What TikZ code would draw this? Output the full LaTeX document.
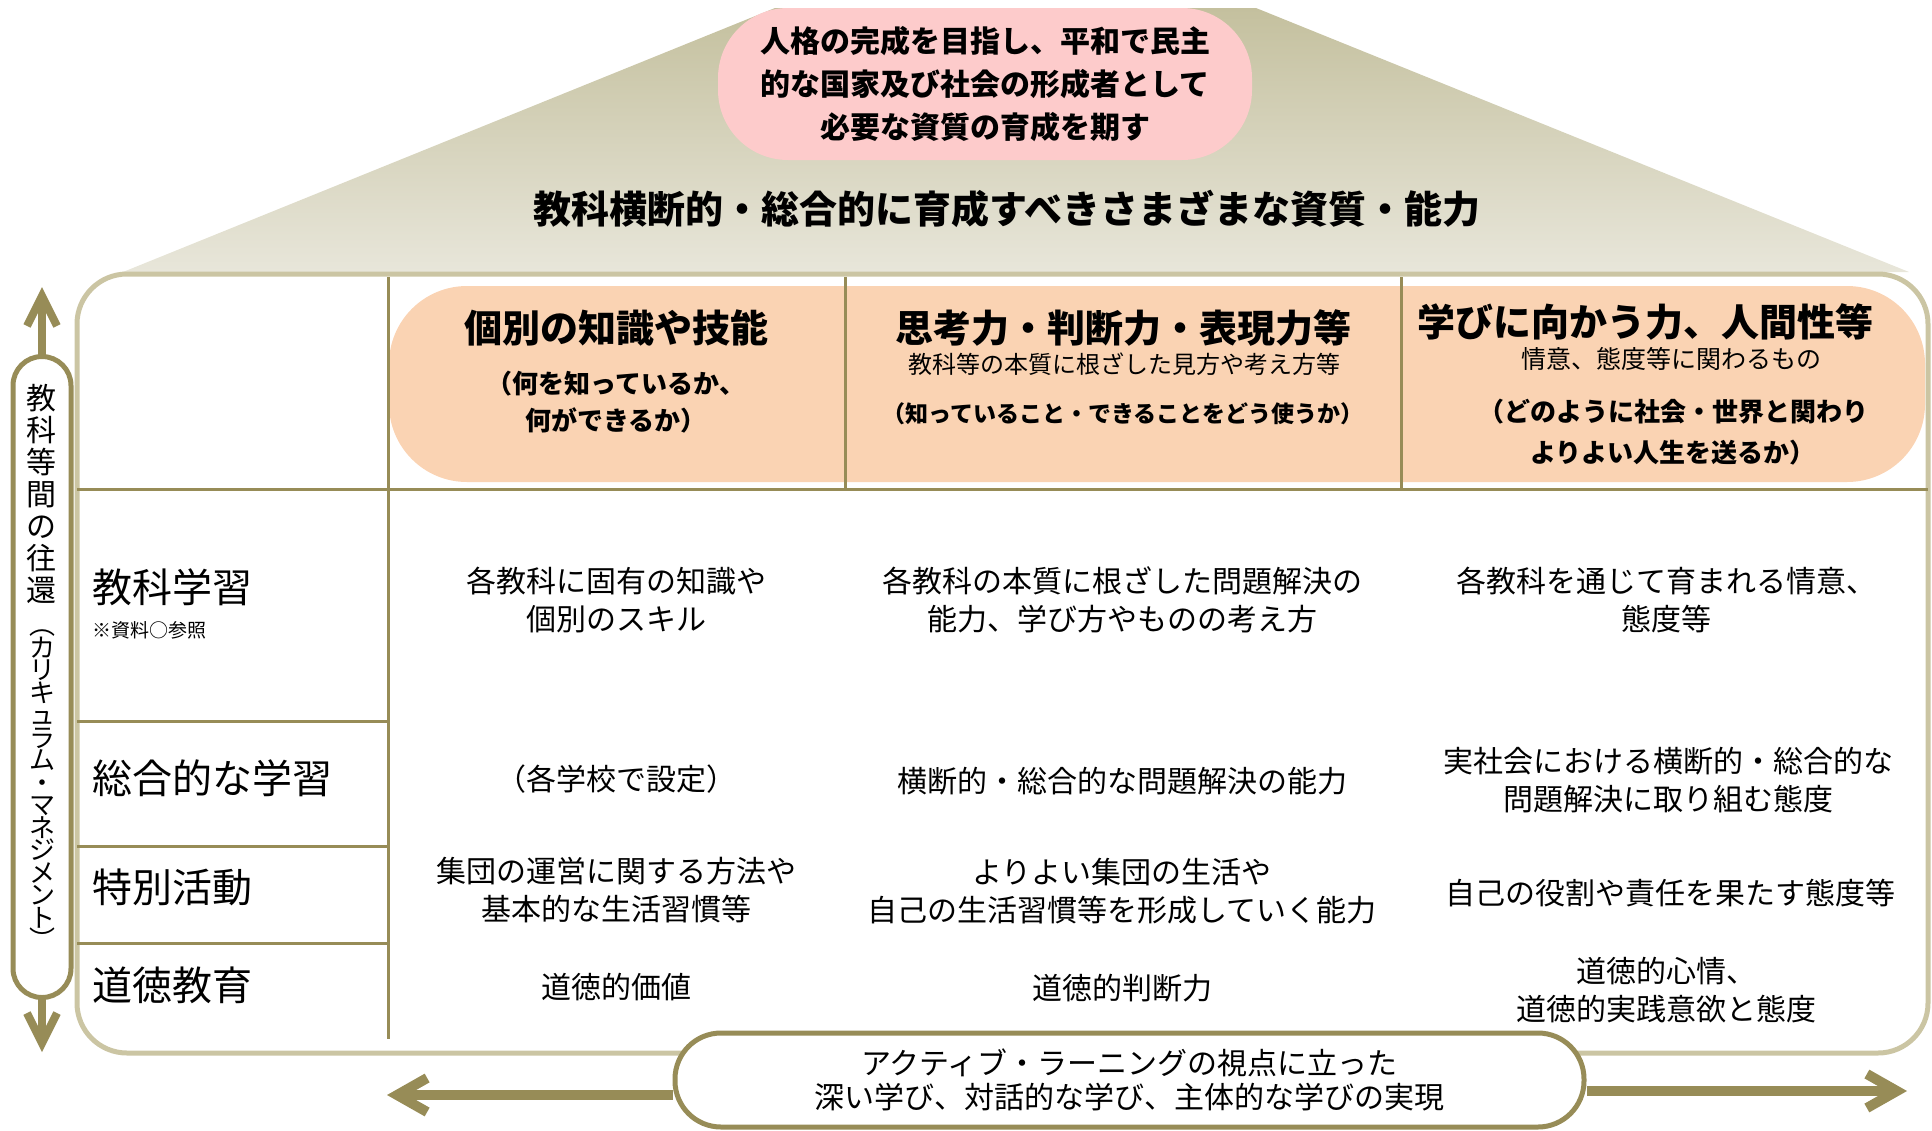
\documentclass[tikz,border=0pt]{standalone}
\usepackage{fontspec}
\setmainfont{Noto Sans CJK JP}
\usetikzlibrary{positioning, arrows.meta, calc}
\definecolor{gridolive}{HTML}{978C57}
\definecolor{frameline}{HTML}{CBC5A3}
\definecolor{roofdark}{HTML}{C4C09E}
\definecolor{rooflight}{HTML}{E8E6DA}
\definecolor{peach}{HTML}{FAD3B3}
\definecolor{goalpink}{HTML}{FDCBCB}
\newcommand{\fsz}[2]{\fontsize{#1}{#2}\selectfont}

\begin{document}
\begin{tikzpicture}[x=1pt, y=-1pt,
    cell/.style={align=center, inner sep=0pt, font=\fsz{30}{38}},
    rowlabel/.style={anchor=west, inner sep=0pt, font=\fsz{40}{44}},
    headtitle/.style={inner sep=0pt, font=\bfseries\fsz{38}{42}},
    headsub/.style={inner sep=0pt, font=\fsz{24}{28}},
    headnote/.style={align=center, inner sep=0pt, font=\bfseries\fsz{26}{37}},
    gridline/.style={gridolive, line width=3pt},
    pill/.style={draw=gridolive, line width=5pt, fill=white},
    wayarrow/.style={gridolive, line width=10pt,
      -{Straight Barb[length=30pt, width=34pt]}},
    sidearrow/.style={gridolive, line width=8pt,
      -{Straight Barb[length=30pt, width=30pt]}}]
  \useasboundingbox (0,0) rectangle (1932,1130);

  % ROOF

  \path[top color=roofdark, bottom color=rooflight]
    (123,272) -- (775,8) -- (1256,8) -- (1909,272) -- cycle;

  \node[fill=goalpink, rounded corners=70pt, minimum width=534pt,
    minimum height=152pt, align=center, inner sep=0pt,
    font=\bfseries\fsz{30}{43}] (goal) at (985,84) {
    人格の完成を目指し、平和で民主\\
    的な国家及び社会の形成者として\\
    必要な資質の育成を期す};

  \node[headtitle] (theme) at (1007,209)
    {教科横断的・総合的に育成すべきさまざまな資質・能力};

  % HOUSE

  \fill[peach, rounded corners=78pt] (389,286) rectangle (1925,482);
  \draw[frameline, line width=5pt, rounded corners=50pt]
    (77,274) rectangle (1928,1053);

  \draw[gridline] (388,277) -- (388,1039);
  \draw[gridline] (845,277) -- (845,490);
  \draw[gridline] (1401,277) -- (1401,490);
  \draw[gridline] (77,489) -- (1928,489);
  \draw[gridline] (77,721) -- (388,721);
  \draw[gridline] (77,846) -- (388,846);
  \draw[gridline] (77,943) -- (388,943);

  % PILLARS

  \node[headtitle] (knowtitle) at (616,328) {個別の知識や技能};
  \node[headnote] (knownote) at (616,402)
    {（何を知っているか、\\何ができるか）};

  \node[headtitle] (thinktitle) at (1123,328) {思考力・判断力・表現力等};
  \node[headsub] (thinksub) at (1124,364) {教科等の本質に根ざした見方や考え方等};
  \node[headnote, font=\bfseries\fsz{23}{30}] (thinknote) at (1123,414)
    {（知っていること・できることをどう使うか）};

  \node[headtitle] (willtitle) at (1645,322) {学びに向かう力、人間性等};
  \node[headsub, font=\fsz{25}{28}] (willsub) at (1671,359)
    {情意、態度等に関わるもの};
  \node[headnote, font=\bfseries\fsz{26}{41}] (willnote) at (1673,432)
    {（どのように社会・世界と関わり\\よりよい人生を送るか）};

  % ROWS

  \node[rowlabel] (subj) at (92,587) {教科学習};
  \node[rowlabel, font=\fsz{19}{20}, below=43pt of subj.west, anchor=west]
    (subjnote) {※資料○参照};
  \node[rowlabel] (integ) at (92,778) {総合的な学習};
  \node[rowlabel] (special) at (92,887) {特別活動};
  \node[rowlabel] (moral) at (92,985) {道徳教育};

  \node[cell] (subjknow) at (616,600) {各教科に固有の知識や\\個別のスキル};
  \node[cell] (subjthink) at (1122,600)
    {各教科の本質に根ざした問題解決の\\能力、学び方やものの考え方};
  \node[cell] (subjwill) at (1666,600) {各教科を通じて育まれる情意、\\態度等};

  \node[cell] (integknow) at (616,779) {（各学校で設定）};
  \node[cell] (integthink) at (1122,781) {横断的・総合的な問題解決の能力};
  \node[cell] (integwill) at (1668,780)
    {実社会における横断的・総合的な\\問題解決に取り組む態度};

  \node[cell] (specialknow) at (616,890)
    {集団の運営に関する方法や\\基本的な生活習慣等};
  \node[cell] (specialthink) at (1122,891)
    {よりよい集団の生活や\\自己の生活習慣等を形成していく能力};
  \node[cell] (specialwill) at (1670,893) {自己の役割や責任を果たす態度等};

  \node[cell] (moralknow) at (616,987) {道徳的価値};
  \node[cell] (moralthink) at (1122,988) {道徳的判断力};
  \node[cell] (moralwill) at (1666,990) {道徳的心情、\\道徳的実践意欲と態度};

  % CURRICULUM LOOP

  \node[pill, minimum width=58pt, minimum height=641pt, rounded corners=29pt]
    (loop) at (42,677) {};
  \node[inner sep=0pt, align=center, font=\fsz{30}{32}] (loopupper)
    at (42,494) {教\\科\\等\\間\\の\\往\\還};
  \node[inner sep=0pt, align=center, font=\fsz{26}{22.5}] (looplower)
    at (42,790) {︵\\カ\\リ\\キ\\ュ\\ラ\\ム\\・\\マ\\ネ\\ジ\\メ\\ン\\ト\\︶};

  \coordinate (looptop) at (42,287);
  \coordinate (loopbottom) at (42,1052);
  \draw[sidearrow] (loop.north) -- (looptop);
  \draw[sidearrow] (loop.south) -- (loopbottom);

  % ACTIVE LEARNING

  \node[pill, minimum width=909pt, minimum height=94pt, rounded corners=46pt,
    align=center, inner sep=0pt, font=\fsz{30}{34}] (practice) at (1129.5,1080)
    {アクティブ・ラーニングの視点に立った\\
     深い学び、対話的な学び、主体的な学びの実現};

  \coordinate (leftend) at (387,1095);
  \coordinate (rightend) at (1907,1091);
  \draw[wayarrow] (practice.west |- leftend) -- (leftend);
  \draw[wayarrow] (practice.east |- rightend) -- (rightend);

\end{tikzpicture}
\end{document}
